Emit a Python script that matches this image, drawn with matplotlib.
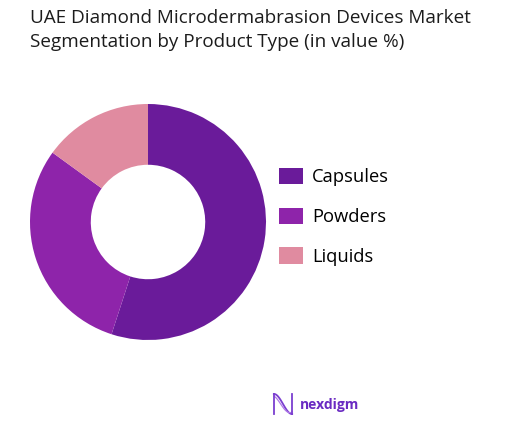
import numpy as np
import matplotlib
matplotlib.use('Agg')
from matplotlib import pyplot as plt
from matplotlib.patches import Patch

plt.rcParams['font.family'] = ['Open Sans', 'DejaVu Sans']

# chart data
labels = ['Capsules', 'Powders', 'Liquids']
shares = [55, 30, 15]
colors = ['#6A1B9A', '#8E24AA', '#E08BA0']

fig = plt.figure(figsize=(5.21, 4.30), dpi=100)
W, H = 521, 430

# title
fig.text(30 / W, 1 - 9 / H,
         'UAE Diamond Microdermabrasion Devices Market\nSegmentation by Product Type (in value %)',
         ha='left', va='top', fontsize=13.6, color='#1c1c1c', linespacing=1.42)

# donut
cx, cy, r = 148, 222, 118
ax = fig.add_axes([(cx - r) / W, 1 - (cy + r) / H, 2 * r / W, 2 * r / H])
wedges, _ = ax.pie(shares, colors=colors, startangle=90, counterclock=False,
                   radius=1.0, wedgeprops=dict(width=0.515, edgecolor='none'))
ax.set_xlim(-1, 1)
ax.set_ylim(-1, 1)
ax.set_aspect('equal')
ax.axis('off')

# legend
handles = [Patch(facecolor=c, edgecolor='none') for c in colors]
fig.legend(handles, labels, loc='upper left',
           bbox_to_anchor=(279 / W, 1 - 168 / H), frameon=False,
           fontsize=13.2, handlelength=1.3, handleheight=1.0,
           handletextpad=0.5, labelspacing=1.15, borderaxespad=0,
           borderpad=0)

# logo
lx = fig.add_axes([272 / W, 1 - 416 / H, 22 / W, 24 / H])
t = np.linspace(0, 1, 100)
lx.plot(t, 0.5 + 0.42 * np.cos(np.pi * t), color='#7B3FD0', lw=1.3)
lx.plot(t, 0.5 + 0.36 * np.cos(np.pi * t + 0.4), color='#B07AE8', lw=0.9)
lx.plot([0.02, 0.02], [0.1, 0.92], color='#7B3FD0', lw=1.3)
lx.plot([0.98, 0.98], [0.08, 0.9], color='#7B3FD0', lw=1.3)
lx.set_xlim(-0.1, 1.1)
lx.set_ylim(0, 1)
lx.axis('off')
fig.text(300 / W, 1 - 405 / H, 'nexdigm', ha='left', va='center',
         fontsize=10, fontweight='bold', color='#6A2BC2')

fig.savefig('out.png', dpi=100)
